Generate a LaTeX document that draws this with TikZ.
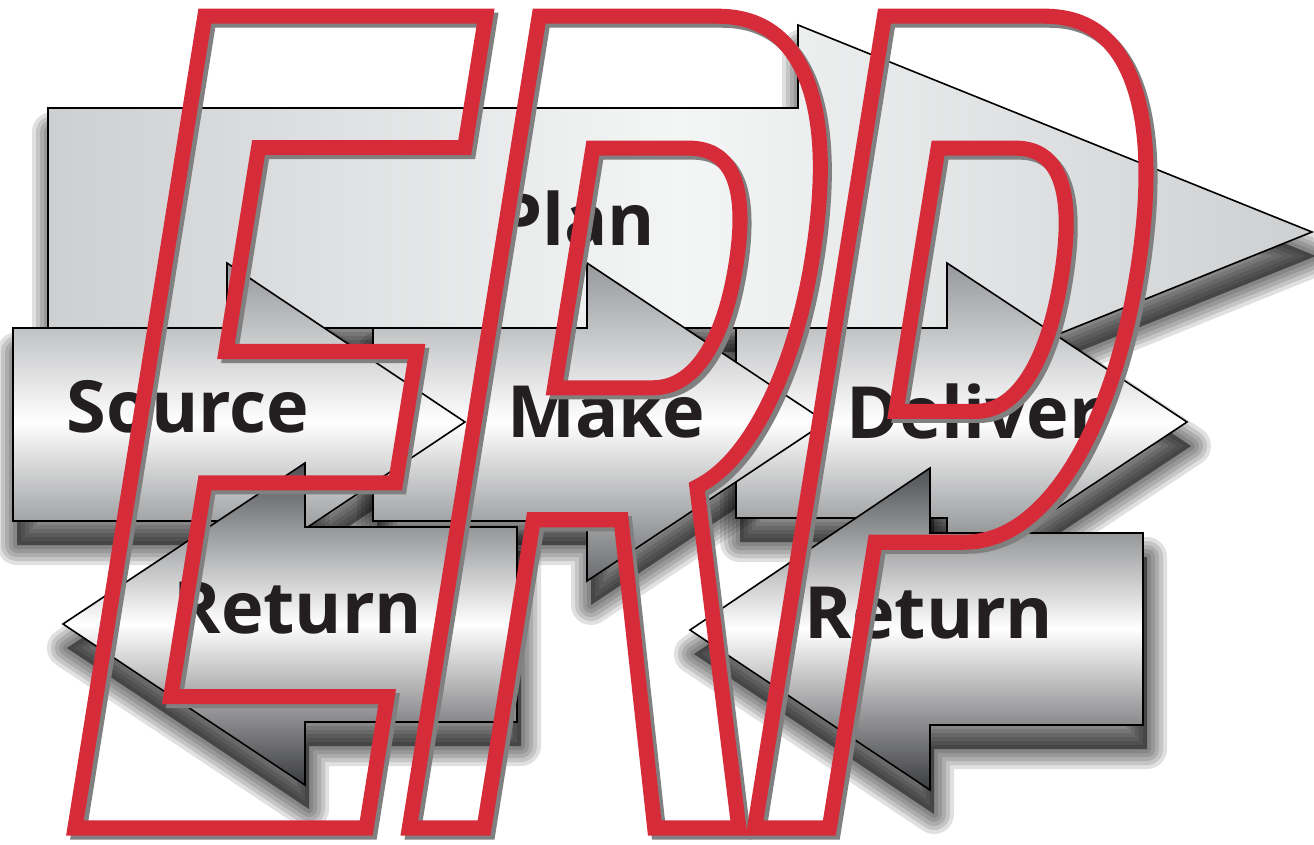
\documentclass[tikz,border=0pt]{standalone}
\usepackage{fontspec}
\setsansfont{Open Sans}
\newfontface\erpface{Liberation Sans Bold}[FakeStretch=0.44,FakeSlant=0.16]
\usetikzlibrary{positioning}

\definecolor{erpred}{RGB}{214,44,58}
\definecolor{erpgray}{RGB}{128,128,128}
\definecolor{ink}{RGB}{35,31,32}
\definecolor{planside}{RGB}{206,207,209}
\definecolor{plancentre}{RGB}{244,245,245}
\definecolor{rowtop}{RGB}{150,152,155}
\definecolor{rowbottom}{RGB}{105,107,110}
\definecolor{rettop}{RGB}{78,80,83}
\definecolor{retbottom}{RGB}{58,59,62}

% outline-only text (render mode 1)
\newcommand\outlined[2]{\special{pdf:code 1 Tr #1 w}#2\special{pdf:code 0 Tr}}

% arrow outlines
\newcommand\planshape{(48,108) -- (798,108) -- (798,25) -- (1312,232) -- (798,439) -- (798,328) -- (48,328) -- cycle}
\newcommand\sourceshape{(13,328) -- (227,328) -- (227,263) -- (465,422) -- (227,581) -- (227,521) -- (13,521) -- cycle}
\newcommand\makeshape{(373,328) -- (587,328) -- (587,263) -- (826,422) -- (587,581) -- (587,521) -- (373,521) -- cycle}
\newcommand\delivershape{(736,328) -- (947,328) -- (947,263) -- (1187,422) -- (947,581) -- (947,518) -- (736,518) -- cycle}
\newcommand\retlshape{(517,527) -- (305,527) -- (305,463) -- (63,624) -- (305,785) -- (305,722) -- (517,722) -- cycle}
\newcommand\retrshape{(1143,533) -- (930,533) -- (930,468) -- (690,630) -- (930,790) -- (930,725) -- (1143,725) -- cycle}

\begin{document}
\begin{tikzpicture}[x=1pt, y=-1pt,
  box/.style={draw=black, line width=1.6pt},
  plan/.style={box, left color=planside, right color=planside, middle color=plancentre},
  fwd/.style={box, top color=rowtop, bottom color=rowbottom, middle color=white},
  back/.style={box, top color=rettop, bottom color=retbottom, middle color=white},
  lbl/.style={font=\sffamily\bfseries\fontsize{72}{72}\selectfont, text=ink, inner sep=0pt, anchor=base},
  erp/.style={font=\erpface\fontsize{1180}{1180}\selectfont, inner sep=0pt, anchor=base west}]

\useasboundingbox (0,0) rectangle (1314,844);

% Shadows
\foreach \w in {40,32,24,16,8}
  \foreach \s in {plan,source,make,deliver,retl,retr}
    \filldraw[black, opacity=0.12, line width=\w pt, line join=round, shift={(4,24)}] \csname\s shape\endcsname;

% Plan
\draw[plan] \planshape;
\node[lbl] (plan) at (576,245) {Plan};

% Source, Make, Deliver
\draw[fwd] \delivershape;
\node[lbl] (deliver) at (974,438) {Deliver};
\draw[fwd] \makeshape;
\node[lbl] (make) at (606,437) {Make};
\draw[fwd] \sourceshape;
\node[lbl] (source) at (188,432) {Source};

% Return
\draw[back] \retrshape;
\node[lbl] (retr) at (929,638) {Return};
\draw[back] \retlshape;
\node[lbl] (retl) at (298,633) {Return};

% ERP
\node[erp, text=erpgray] (erpshade) at (44,832) {\outlined{15}{E\kern-12pt R\kern-30pt P}};
\node[erp, text=erpred] (erp) at (40,828) {\outlined{15}{E\kern-12pt R\kern-30pt P}};

\end{tikzpicture}
\end{document}
